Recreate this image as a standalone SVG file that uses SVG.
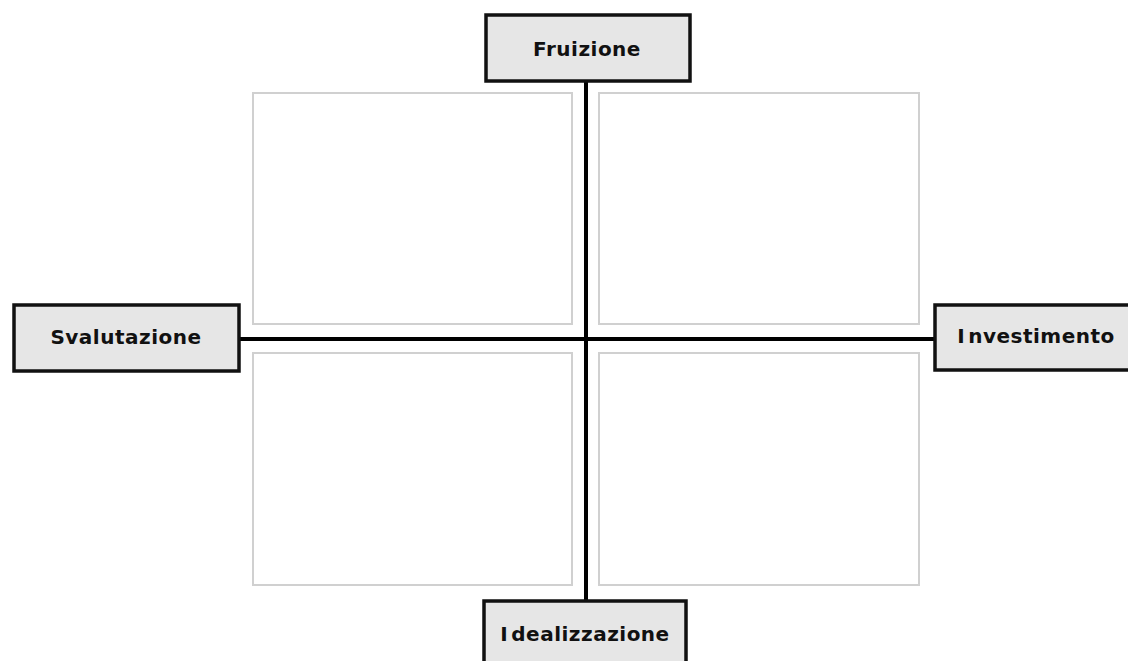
<svg xmlns="http://www.w3.org/2000/svg" width="1128" height="661" viewBox="0 0 1128 661">
  <style>
    .quad { fill: #ffffff; stroke: #d0d0d0; stroke-width: 2; }
    .axis { stroke: #000000; stroke-width: 4; fill: none; }
    .pole rect { fill: #e6e6e6; stroke: #111111; stroke-width: 3.5; }
    .pole text { font-family: "DejaVu Sans", Verdana, sans-serif; font-weight: bold; font-size: 20px; letter-spacing: 0.5px; fill: #111111; text-anchor: middle; }
  </style>
  <rect width="1128" height="661" fill="#ffffff"/>

  <!-- quadrant panels -->
  <g id="quadrants">
    <rect class="quad" x="253" y="93" width="319" height="231"/>
    <rect class="quad" x="599" y="93" width="320" height="231"/>
    <rect class="quad" x="253" y="353" width="319" height="232"/>
    <rect class="quad" x="599" y="353" width="320" height="232"/>
  </g>

  <!-- axes -->
  <g id="connectors">
    <line class="axis" x1="586" y1="82" x2="586" y2="600"/>
    <line class="axis" x1="239" y1="339" x2="934" y2="339"/>
  </g>

  <g id="fruizione" class="pole">
    <rect x="486" y="15" width="204" height="66"/>
    <text x="587" y="56">Fruizione</text>
  </g>

  <g id="svalutazione" class="pole">
    <rect x="14" y="305" width="225" height="66"/>
    <text x="126" y="344">Svalutazione</text>
  </g>

  <g id="investimento" class="pole">
    <rect x="935" y="305" width="210" height="65"/>
    <text x="1036" y="343">I<tspan dx="3">nvestimento</tspan></text>
  </g>

  <g id="idealizzazione" class="pole">
    <rect x="484" y="601" width="202" height="80"/>
    <text x="585" y="641">I<tspan dx="3">dealizzazione</tspan></text>
  </g>
</svg>
